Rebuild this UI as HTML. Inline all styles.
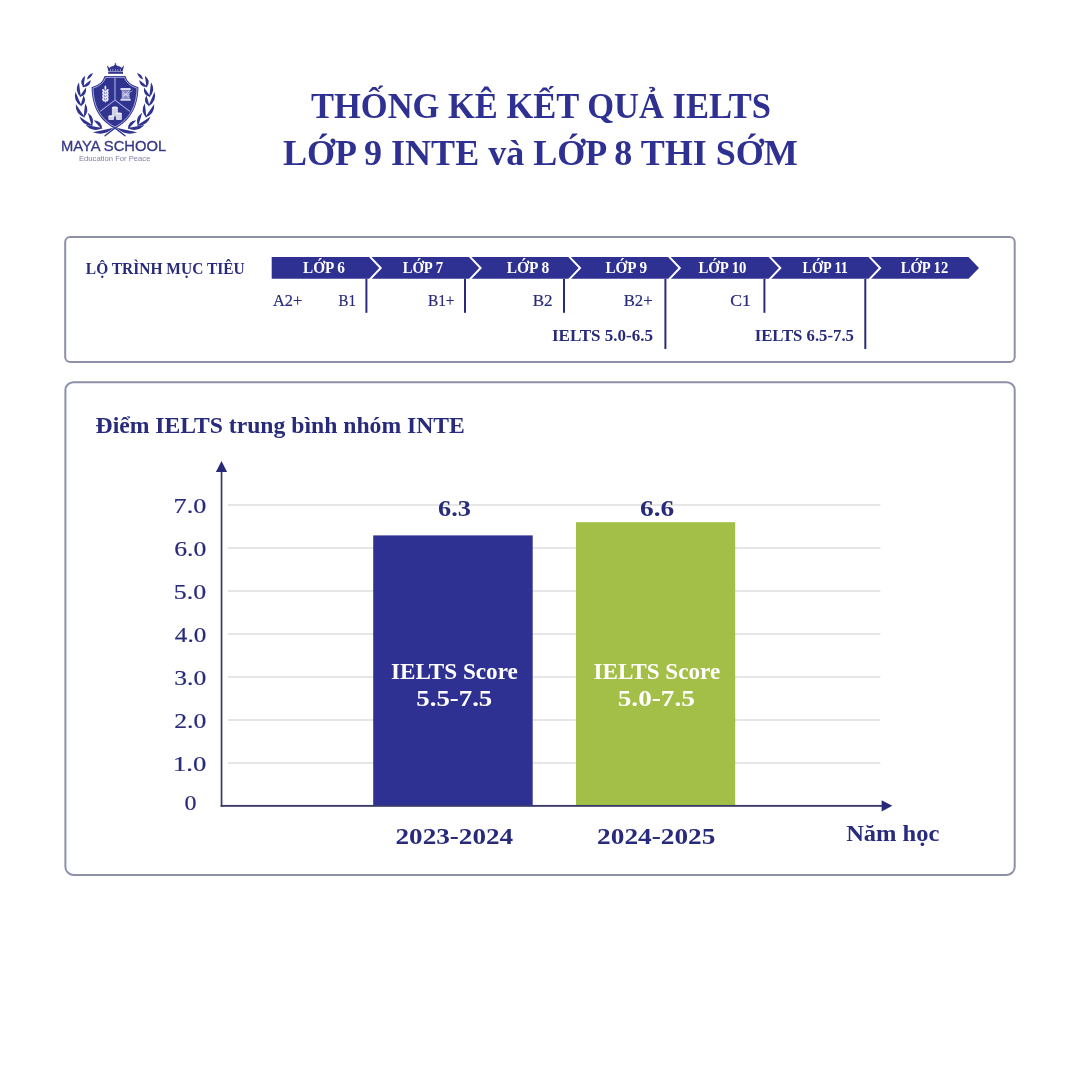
<!DOCTYPE html>
<html lang="vi">
<head>
<meta charset="utf-8">
<title>Thống kê kết quả IELTS</title>
<style>
html,body{margin:0;padding:0;background:#ffffff;}
body{width:1080px;height:1080px;overflow:hidden;font-family:"Liberation Serif",serif;}
svg{display:block;}
svg text{white-space:pre;}
</style>
</head>
<body>
<svg width="1080" height="1080" viewBox="0 0 1080 1080">
<rect x="0" y="0" width="1080" height="1080" fill="#ffffff"/>
<path d="M105,135.8 L117,126.4 M125,135.8 L113,126.4" stroke="#30348f" stroke-width="1.35" stroke-linecap="round" fill="none"/>
<path d="M104.58,75.92 L125.42,75.92 Q127.50,84.25 138.42,87.17 C138.08,104.67 132.08,119.67 115.00,128.67 C97.92,119.67 91.92,104.67 91.58,87.17 Q102.50,84.25 104.58,75.92 Z" fill="#30348f"/>
<path d="M105.67,77.33 L124.33,77.33 Q126.83,85.08 137.00,88.17 C136.58,104.67 130.83,118.67 115.00,127.00 C99.17,118.67 93.42,104.67 93.00,88.17 Q103.17,85.08 105.67,77.33 Z" fill="none" stroke="#c4c6ee" stroke-width="0.8"/>
<path d="M115.00,77.33 L115.00,100.08 L100.17,111.33 M115.00,100.08 L129.83,111.33" fill="none" stroke="#a9acdf" stroke-width="1.1"/>
<rect x="108.2" y="71.9" width="14.8" height="1.9" fill="#30348f"/>
<path d="M108.4,71.5 L106.9,65.2 L109.6,68.0 Q110.6,66.0 112.6,66.3 Q114.2,66.0 115.4,63.8 Q116.6,66.0 118.6,66.3 Q120.4,66.0 121.4,68.0 L124.1,65.2 L122.6,71.5 Z" fill="#30348f"/>
<path d="M115.4,62.8 V65 M114.6,63.6 H116.2" stroke="#30348f" stroke-width="0.5"/>
<rect x="110.05" y="69.2" width="0.7" height="1.5" fill="#fff" opacity="0.8"/>
<rect x="112.55" y="69.2" width="0.7" height="1.5" fill="#fff" opacity="0.8"/>
<rect x="115.05" y="69.2" width="0.7" height="1.5" fill="#fff" opacity="0.8"/>
<rect x="117.55" y="69.2" width="0.7" height="1.5" fill="#fff" opacity="0.8"/>
<rect x="120.05" y="69.2" width="0.7" height="1.5" fill="#fff" opacity="0.8"/>
<g fill="#ececfa">
<ellipse cx="105.42" cy="87.80" rx="0.95" ry="2.3"/>
<ellipse cx="103.52" cy="90.80" rx="1.15" ry="1.9" transform="rotate(-28 103.52 90.80)"/>
<ellipse cx="107.32" cy="90.80" rx="1.15" ry="1.9" transform="rotate(28 107.32 90.80)"/>
<ellipse cx="105.42" cy="91.70" rx="0.75" ry="1.5"/>
<ellipse cx="103.52" cy="93.80" rx="1.15" ry="1.9" transform="rotate(-28 103.52 93.80)"/>
<ellipse cx="107.32" cy="93.80" rx="1.15" ry="1.9" transform="rotate(28 107.32 93.80)"/>
<ellipse cx="105.42" cy="94.70" rx="0.75" ry="1.5"/>
<ellipse cx="103.52" cy="96.80" rx="1.15" ry="1.9" transform="rotate(-28 103.52 96.80)"/>
<ellipse cx="107.32" cy="96.80" rx="1.15" ry="1.9" transform="rotate(28 107.32 96.80)"/>
<ellipse cx="105.42" cy="97.70" rx="0.75" ry="1.5"/>
<ellipse cx="103.52" cy="99.80" rx="1.15" ry="1.9" transform="rotate(-28 103.52 99.80)"/>
<ellipse cx="107.32" cy="99.80" rx="1.15" ry="1.9" transform="rotate(28 107.32 99.80)"/>
<ellipse cx="105.42" cy="100.70" rx="0.75" ry="1.5"/>
<rect x="105.12" y="101.00" width="0.6" height="1.4"/>
</g>
<g fill="#d9daf3">
<rect x="120.37" y="88.12" width="10.4" height="2" rx="0.9"/>
<rect x="120.37" y="98.82" width="10.4" height="2" rx="0.9"/>
<rect x="121.77" y="90.12" width="7.8" height="8.7" opacity="0.55"/>
<path d="M121.77,90.42 L129.57,98.42 M129.57,90.42 L121.77,98.42 M121.77,93.42 L129.57,95.92 M129.57,93.42 L121.77,95.92" stroke="#d9daf3" stroke-width="0.7" fill="none"/>
<path d="M129.67,92.22 L132.27,91.02" stroke="#d9daf3" stroke-width="0.7"/>
</g>
<path d="M111.90,107.40 V115.60 A3.00,0.9 0 0 0 117.90,115.60 V107.40 Z" fill="#d3d3e6"/>
<ellipse cx="114.90" cy="107.40" rx="3.00" ry="0.9" fill="#f2f2fb"/>
<path d="M108.30,116.10 V119.20 A2.90,0.9 0 0 0 114.10,119.20 V116.10 Z" fill="#d3d3e6"/>
<ellipse cx="111.20" cy="116.10" rx="2.90" ry="0.9" fill="#f2f2fb"/>
<path d="M115.90,113.30 V119.20 A3.00,0.9 0 0 0 121.90,119.20 V113.30 Z" fill="#d3d3e6"/>
<ellipse cx="118.90" cy="113.30" rx="3.00" ry="0.9" fill="#f2f2fb"/>
<path d="M83.61,87.68 Q77.86,80.86 85.20,75.80 Q84.11,81.70 83.61,87.68 Z M82.18,86.88 Q86.34,83.28 90.75,80.00 Q90.10,87.96 82.18,86.88 Z M80.99,97.38 Q73.45,90.70 79.00,82.30 Q79.70,89.88 80.99,97.38 Z M79.47,97.02 Q82.52,92.15 85.90,87.50 Q87.49,95.51 79.47,97.02 Z M81.88,106.32 Q72.64,101.65 75.50,91.70 Q78.42,99.13 81.88,106.32 Z M80.40,106.42 Q81.81,100.75 83.60,95.20 Q87.57,102.40 80.40,106.42 Z M85.15,117.51 Q75.05,114.51 75.80,104.00 Q80.23,110.93 85.15,117.51 Z M83.67,117.89 Q84.24,110.57 85.20,103.30 Q90.20,111.20 83.67,117.89 Z M93.24,125.60 Q82.73,126.63 79.40,116.60 Q86.16,121.35 93.24,125.60 Z M92.05,126.50 Q89.73,119.66 87.80,112.70 Q95.47,117.90 92.05,126.50 Z M102.67,127.96 Q93.04,133.04 85.60,125.10 Q94.09,126.83 102.67,127.96 Z M101.99,129.22 Q97.70,124.85 93.70,120.20 Q102.11,120.79 101.99,129.22 Z M113.45,127.84 Q104.52,136.52 92.80,132.30 Q103.19,130.36 113.45,127.84 Z M86.93,79.54 Q87.85,74.38 92.90,73.00 Q91.68,77.89 86.93,79.54 Z" fill="#30348f"/>
<g transform="translate(230 0) scale(-1 1)"><path d="M83.61,87.68 Q77.86,80.86 85.20,75.80 Q84.11,81.70 83.61,87.68 Z M82.18,86.88 Q86.34,83.28 90.75,80.00 Q90.10,87.96 82.18,86.88 Z M80.99,97.38 Q73.45,90.70 79.00,82.30 Q79.70,89.88 80.99,97.38 Z M79.47,97.02 Q82.52,92.15 85.90,87.50 Q87.49,95.51 79.47,97.02 Z M81.88,106.32 Q72.64,101.65 75.50,91.70 Q78.42,99.13 81.88,106.32 Z M80.40,106.42 Q81.81,100.75 83.60,95.20 Q87.57,102.40 80.40,106.42 Z M85.15,117.51 Q75.05,114.51 75.80,104.00 Q80.23,110.93 85.15,117.51 Z M83.67,117.89 Q84.24,110.57 85.20,103.30 Q90.20,111.20 83.67,117.89 Z M93.24,125.60 Q82.73,126.63 79.40,116.60 Q86.16,121.35 93.24,125.60 Z M92.05,126.50 Q89.73,119.66 87.80,112.70 Q95.47,117.90 92.05,126.50 Z M102.67,127.96 Q93.04,133.04 85.60,125.10 Q94.09,126.83 102.67,127.96 Z M101.99,129.22 Q97.70,124.85 93.70,120.20 Q102.11,120.79 101.99,129.22 Z M113.45,127.84 Q104.52,136.52 92.80,132.30 Q103.19,130.36 113.45,127.84 Z M86.93,79.54 Q87.85,74.38 92.90,73.00 Q91.68,77.89 86.93,79.54 Z" fill="#30348f"/></g>
<rect x="65.2" y="237.1" width="949.5" height="125" rx="5" ry="5" fill="none" stroke="#8c90a8" stroke-width="2"/>
<rect x="65.4" y="382.2" width="949.3" height="492.7" rx="8" ry="8" fill="none" stroke="#8c90a8" stroke-width="2"/>
<path d="M271.7,257.1 H968.5 L979,268 L968.5,278.8 H271.7 Z" fill="#2e3192"/>
<path d="M369.9,256.6 L380.7,268 L369.9,279.4" fill="none" stroke="#ffffff" stroke-width="2"/>
<path d="M469.8,256.6 L480.6,268 L469.8,279.4" fill="none" stroke="#ffffff" stroke-width="2"/>
<path d="M569.2,256.6 L580.0,268 L569.2,279.4" fill="none" stroke="#ffffff" stroke-width="2"/>
<path d="M669.0,256.6 L679.8,268 L669.0,279.4" fill="none" stroke="#ffffff" stroke-width="2"/>
<path d="M769.5,256.6 L780.3,268 L769.5,279.4" fill="none" stroke="#ffffff" stroke-width="2"/>
<path d="M869.3,256.6 L880.0999999999999,268 L869.3,279.4" fill="none" stroke="#ffffff" stroke-width="2"/>
<rect x="365.40" y="278.8" width="2" height="34.00" fill="#282b7b"/>
<rect x="464.00" y="278.8" width="2" height="34.00" fill="#282b7b"/>
<rect x="563.00" y="278.8" width="2" height="34.00" fill="#282b7b"/>
<rect x="664.40" y="278.8" width="2" height="70.20" fill="#282b7b"/>
<rect x="763.40" y="278.8" width="2" height="34.00" fill="#282b7b"/>
<rect x="864.30" y="278.8" width="2" height="70.20" fill="#282b7b"/>
<rect x="227.8" y="762.25" width="652.6" height="1.5" fill="#dedede"/>
<rect x="227.8" y="719.25" width="652.6" height="1.5" fill="#dedede"/>
<rect x="227.8" y="676.25" width="652.6" height="1.5" fill="#dedede"/>
<rect x="227.8" y="633.25" width="652.6" height="1.5" fill="#dedede"/>
<rect x="227.8" y="590.25" width="652.6" height="1.5" fill="#dedede"/>
<rect x="227.8" y="547.25" width="652.6" height="1.5" fill="#dedede"/>
<rect x="227.8" y="504.25" width="652.6" height="1.5" fill="#dedede"/>
<rect x="373.2" y="535.4" width="159.5" height="270.4" fill="#2e3192"/>
<rect x="576.0" y="522.2" width="159.2" height="283.6" fill="#a3bf48"/>
<rect x="220.7" y="470" width="1.7" height="336.8" fill="#373967"/>
<rect x="220.7" y="804.95" width="662" height="1.85" fill="#373967"/>
<path d="M221.5,460.9 L227.1,472 H215.9 Z" fill="#26287a"/>
<path d="M892.3,805.85 L881.6,811.4 V800.3 Z" fill="#26287a"/>
<text x="311.01" y="118.00" font-family='"Liberation Serif", serif' font-weight="700" font-size="35.5" fill="#2e3192" textLength="459.94" lengthAdjust="spacingAndGlyphs">THỐNG KÊ KẾT QUẢ IELTS</text>
<text x="282.99" y="164.60" font-family='"Liberation Serif", serif' font-weight="700" font-size="35.5" fill="#2e3192" textLength="514.77" lengthAdjust="spacingAndGlyphs">LỚP 9 INTE và LỚP 8 THI SỚM</text>
<text x="60.94" y="151.10" font-family='"Liberation Sans", sans-serif' font-weight="400" font-size="14.6" fill="#343786" textLength="105.25" lengthAdjust="spacingAndGlyphs" stroke="#343786" stroke-width="0.3">MAYA SCHOOL</text>
<text x="78.98" y="160.60" font-family='"Liberation Sans", sans-serif' font-weight="400" font-size="8.0" fill="#7f7fa6" textLength="71.47" lengthAdjust="spacingAndGlyphs">Education For Peace</text>
<text x="85.86" y="274.10" font-family='"Liberation Serif", serif' font-weight="700" font-size="16.4" fill="#282b7b" textLength="158.86" lengthAdjust="spacingAndGlyphs">LỘ TRÌNH MỤC TIÊU</text>
<text x="303.07" y="272.80" font-family='"Liberation Serif", serif' font-weight="700" font-size="16.4" fill="#ffffff" textLength="41.78" lengthAdjust="spacingAndGlyphs">LỚP 6</text>
<text x="402.68" y="272.80" font-family='"Liberation Serif", serif' font-weight="700" font-size="16.4" fill="#ffffff" textLength="40.33" lengthAdjust="spacingAndGlyphs">LỚP 7</text>
<text x="506.76" y="272.80" font-family='"Liberation Serif", serif' font-weight="700" font-size="16.4" fill="#ffffff" textLength="42.39" lengthAdjust="spacingAndGlyphs">LỚP 8</text>
<text x="605.47" y="272.80" font-family='"Liberation Serif", serif' font-weight="700" font-size="16.4" fill="#ffffff" textLength="41.68" lengthAdjust="spacingAndGlyphs">LỚP 9</text>
<text x="698.47" y="272.80" font-family='"Liberation Serif", serif' font-weight="700" font-size="16.4" fill="#ffffff" textLength="48.00" lengthAdjust="spacingAndGlyphs">LỚP 10</text>
<text x="802.58" y="272.80" font-family='"Liberation Serif", serif' font-weight="700" font-size="16.4" fill="#ffffff" textLength="45.17" lengthAdjust="spacingAndGlyphs">LỚP 11</text>
<text x="900.78" y="272.80" font-family='"Liberation Serif", serif' font-weight="700" font-size="16.4" fill="#ffffff" textLength="47.42" lengthAdjust="spacingAndGlyphs">LỚP 12</text>
<text x="272.95" y="305.80" font-family='"Liberation Serif", serif' font-weight="400" font-size="16.4" fill="#282b7b" textLength="29.23" lengthAdjust="spacingAndGlyphs" stroke="#282b7b" stroke-width="0.2">A2+</text>
<text x="338.55" y="305.80" font-family='"Liberation Serif", serif' font-weight="400" font-size="16.4" fill="#282b7b" textLength="17.36" lengthAdjust="spacingAndGlyphs" stroke="#282b7b" stroke-width="0.2">B1</text>
<text x="427.93" y="305.80" font-family='"Liberation Serif", serif' font-weight="400" font-size="16.4" fill="#282b7b" textLength="26.59" lengthAdjust="spacingAndGlyphs" stroke="#282b7b" stroke-width="0.2">B1+</text>
<text x="532.78" y="305.80" font-family='"Liberation Serif", serif' font-weight="400" font-size="16.4" fill="#282b7b" textLength="19.84" lengthAdjust="spacingAndGlyphs" stroke="#282b7b" stroke-width="0.2">B2</text>
<text x="623.69" y="305.80" font-family='"Liberation Serif", serif' font-weight="400" font-size="16.4" fill="#282b7b" textLength="28.90" lengthAdjust="spacingAndGlyphs" stroke="#282b7b" stroke-width="0.2">B2+</text>
<text x="730.29" y="305.80" font-family='"Liberation Serif", serif' font-weight="400" font-size="16.4" fill="#282b7b" textLength="20.67" lengthAdjust="spacingAndGlyphs" stroke="#282b7b" stroke-width="0.2">C1</text>
<text x="551.97" y="341.30" font-family='"Liberation Serif", serif' font-weight="700" font-size="16.0" fill="#282b7b" textLength="101.06" lengthAdjust="spacingAndGlyphs">IELTS 5.0-6.5</text>
<text x="754.68" y="341.30" font-family='"Liberation Serif", serif' font-weight="700" font-size="16.0" fill="#282b7b" textLength="99.24" lengthAdjust="spacingAndGlyphs">IELTS 6.5-7.5</text>
<text x="95.58" y="433.00" font-family='"Liberation Serif", serif' font-weight="700" font-size="22.6" fill="#282b7b" textLength="369.32" lengthAdjust="spacingAndGlyphs">Điểm IELTS trung bình nhóm INTE</text>
<text x="172.92" y="771.00" font-family='"Liberation Serif", serif' font-weight="400" font-size="21.5" fill="#282b7b" textLength="33.37" lengthAdjust="spacingAndGlyphs" stroke="#282b7b" stroke-width="0.2">1.0</text>
<text x="174.21" y="728.00" font-family='"Liberation Serif", serif' font-weight="400" font-size="21.5" fill="#282b7b" textLength="32.03" lengthAdjust="spacingAndGlyphs" stroke="#282b7b" stroke-width="0.2">2.0</text>
<text x="174.21" y="685.00" font-family='"Liberation Serif", serif' font-weight="400" font-size="21.5" fill="#282b7b" textLength="32.03" lengthAdjust="spacingAndGlyphs" stroke="#282b7b" stroke-width="0.2">3.0</text>
<text x="174.82" y="642.00" font-family='"Liberation Serif", serif' font-weight="400" font-size="21.5" fill="#282b7b" textLength="31.41" lengthAdjust="spacingAndGlyphs" stroke="#282b7b" stroke-width="0.2">4.0</text>
<text x="173.89" y="599.00" font-family='"Liberation Serif", serif' font-weight="400" font-size="21.5" fill="#282b7b" textLength="32.36" lengthAdjust="spacingAndGlyphs" stroke="#282b7b" stroke-width="0.2">5.0</text>
<text x="174.21" y="556.00" font-family='"Liberation Serif", serif' font-weight="400" font-size="21.5" fill="#282b7b" textLength="32.03" lengthAdjust="spacingAndGlyphs" stroke="#282b7b" stroke-width="0.2">6.0</text>
<text x="173.58" y="513.00" font-family='"Liberation Serif", serif' font-weight="400" font-size="21.5" fill="#282b7b" textLength="32.69" lengthAdjust="spacingAndGlyphs" stroke="#282b7b" stroke-width="0.2">7.0</text>
<text x="184.46" y="809.80" font-family='"Liberation Serif", serif' font-weight="400" font-size="21.5" fill="#282b7b" textLength="11.97" lengthAdjust="spacingAndGlyphs" stroke="#282b7b" stroke-width="0.2">0</text>
<text x="438.04" y="515.50" font-family='"Liberation Serif", serif' font-weight="700" font-size="23" fill="#282b7b" textLength="32.81" lengthAdjust="spacingAndGlyphs">6.3</text>
<text x="640.01" y="515.50" font-family='"Liberation Serif", serif' font-weight="700" font-size="23" fill="#282b7b" textLength="34.18" lengthAdjust="spacingAndGlyphs">6.6</text>
<text x="391.03" y="679.40" font-family='"Liberation Serif", serif' font-weight="700" font-size="22.5" fill="#ffffff" textLength="126.76" lengthAdjust="spacingAndGlyphs">IELTS Score</text>
<text x="416.31" y="706.00" font-family='"Liberation Serif", serif' font-weight="700" font-size="22.5" fill="#ffffff" textLength="75.99" lengthAdjust="spacingAndGlyphs">5.5-7.5</text>
<text x="593.43" y="679.40" font-family='"Liberation Serif", serif' font-weight="700" font-size="22.5" fill="#ffffff" textLength="126.76" lengthAdjust="spacingAndGlyphs">IELTS Score</text>
<text x="617.69" y="706.00" font-family='"Liberation Serif", serif' font-weight="700" font-size="22.5" fill="#ffffff" textLength="77.22" lengthAdjust="spacingAndGlyphs">5.0-7.5</text>
<text x="395.52" y="843.60" font-family='"Liberation Serif", serif' font-weight="700" font-size="23" fill="#282b7b" textLength="117.68" lengthAdjust="spacingAndGlyphs">2023-2024</text>
<text x="597.11" y="843.60" font-family='"Liberation Serif", serif' font-weight="700" font-size="23" fill="#282b7b" textLength="118.28" lengthAdjust="spacingAndGlyphs">2024-2025</text>
<text x="846.15" y="841.00" font-family='"Liberation Serif", serif' font-weight="700" font-size="22.4" fill="#282b7b" textLength="93.24" lengthAdjust="spacingAndGlyphs">Năm học</text>
</svg>
</body>
</html>
